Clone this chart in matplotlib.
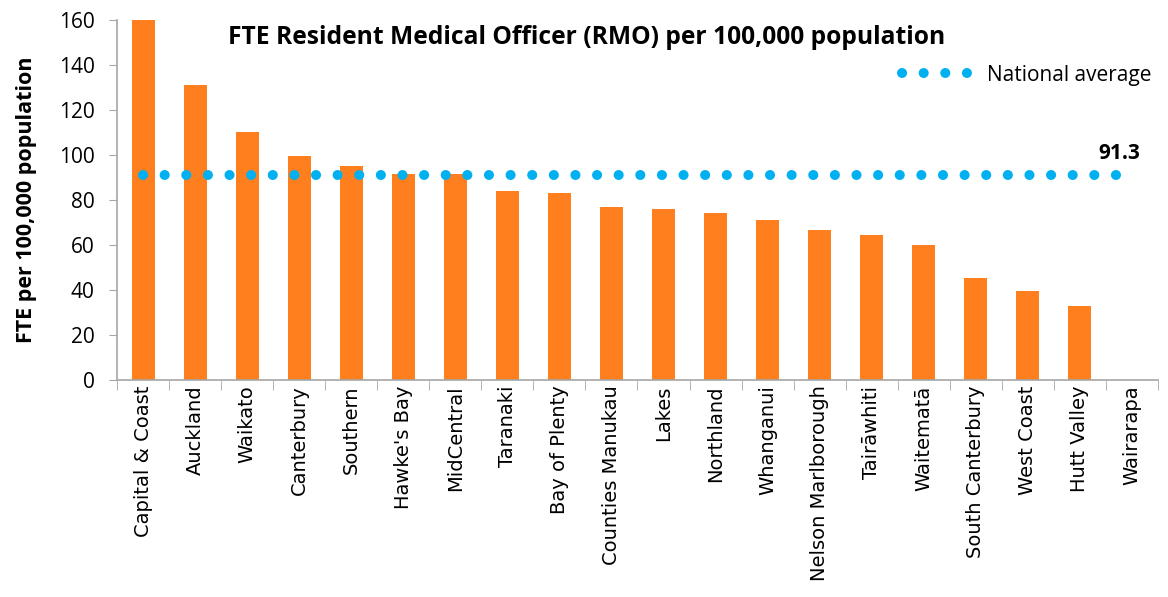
import numpy as np
import matplotlib.pyplot as plt

regions = ['Capital & Coast', 'Auckland', 'Waikato', 'Canterbury', 'Southern',
           "Hawke's Bay", 'MidCentral', 'Taranaki', 'Bay of Plenty',
           'Counties Manukau', 'Lakes', 'Northland', 'Whanganui',
           'Nelson Marlborough', 'Tairāwhiti', 'Waitematā', 'South Canterbury',
           'West Coast', 'Hutt Valley', 'Wairarapa']
fte_rate = [160, 131.1, 110.2, 99.6, 95.0, 91.7, 91.4, 84.1, 83.1, 76.7,
            76.1, 74.1, 71.1, 66.5, 64.3, 60.0, 45.2, 39.7, 33.0, 0]
national_avg = 91.3

BAR_COLOR = '#FF7F1E'
DOT_COLOR = '#00B0F0'
GRID_GRAY = '#A6A6A6'
DOTS = (0, (0.01, 2.152))

fig = plt.figure(figsize=(11.68, 5.97), dpi=100)
ax = fig.add_axes([0.1002, 0.3635, 0.8912, 0.6030])

x = np.arange(len(regions))
ax.bar(x, fte_rate, width=0.44, color=BAR_COLOR, zorder=2)

# national average drawn as a round-capped dotted line
ax.plot([0, 19.0], [national_avg, national_avg], color=DOT_COLOR, lw=7.2,
        linestyle=DOTS, dash_capstyle='round', zorder=3)
ax.text(18.75, national_avg + 4.5, f'{national_avg}', ha='center', va='bottom',
        fontsize=15, fontweight='bold', family='Open Sans')

ax.set_xlim(-0.5, len(regions) - 0.5)
ax.set_ylim(0, 160)
ax.set_yticks(np.arange(0, 161, 20))
ax.tick_params(axis='y', labelsize=15, length=6, color=GRID_GRAY, pad=10)
for lab in ax.get_yticklabels():
    lab.set_family('Open Sans')

ax.set_xticks(x)
ax.set_xticklabels(regions, rotation=90, fontsize=14, family='DejaVu Sans')
ax.tick_params(axis='x', length=0, pad=4)
ax.set_xticks(np.arange(-0.5, len(regions)), minor=True)
ax.tick_params(axis='x', which='minor', length=7, color=GRID_GRAY)

for side in ['top', 'right']:
    ax.spines[side].set_visible(False)
for side in ['left', 'bottom']:
    ax.spines[side].set_color(GRID_GRAY)
    ax.spines[side].set_linewidth(1.2)

ax.set_ylabel('FTE per 100,000 population', fontsize=15.5, fontweight='bold',
              family='Open Sans', labelpad=16)

fig.text(0.502, 0.938, 'FTE Resident Medical Officer (RMO) per 100,000 population',
         ha='center', va='center', fontsize=17.7, fontweight='bold', family='Open Sans')

leg_avg, = ax.plot([], [], color=DOT_COLOR, lw=7.2, linestyle=DOTS,
                   dash_capstyle='round')
fig.legend([leg_avg], ['National average'], loc='center right',
           bbox_to_anchor=(1.002, 0.874), frameon=False,
           handlelength=3.6, handletextpad=0.5,
           prop={'family': 'Open Sans', 'size': 15})

fig.savefig('out.png', dpi=100)
